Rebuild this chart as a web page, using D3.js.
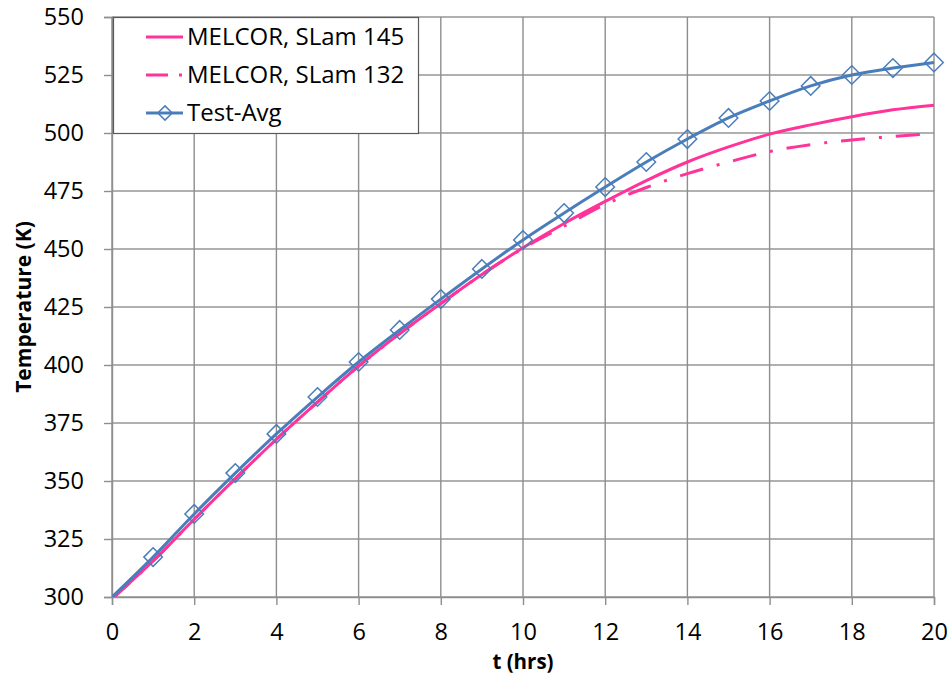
<!DOCTYPE html>
<html>
<head>
<meta charset="utf-8">
<script src="https://cdn.jsdelivr.net/npm/d3@7"></script>
<style>
  body { margin: 0; padding: 0; background: #fff; }
  text { font-family: "Open Sans", "Noto Sans", sans-serif; }
</style>
</head>
<body>
<script>
// data (t in hours, T in K)
var hours = [0, 1, 2, 3, 4, 5, 6, 7, 8, 9, 10, 11, 12, 13, 14, 15, 16, 17, 18, 19, 20];
var slam145 = [299.2, 315.5, 333.5, 351, 368, 384, 399.5, 413.5, 426.5, 439, 450.5, 461, 470.5, 479.5, 487.5, 494, 499.5, 503.5, 507, 510, 512];
var slam132 = [299.2, 315.5, 333.5, 351, 368, 384, 399.5, 413.5, 426.5, 439, 450.3, 459.8, 469.2, 476.5, 482.5, 487.5, 492, 495, 497, 498.5, 499.7];
var testAvg = [300, 317.2, 335.8, 353.4, 370.3, 386.2, 401.3, 415.1, 428.4, 441.4, 453.9, 465.5, 476.7, 487.5, 497.4, 506.5, 513.8, 520.3, 525, 528, 530.4];

var xTicks = [0, 2, 4, 6, 8, 10, 12, 14, 16, 18, 20];
var yTicks = [300, 325, 350, 375, 400, 425, 450, 475, 500, 525, 550];
var legendNames = ["MELCOR, SLam 145", "MELCOR, SLam 132", "Test-Avg"];

var width = 952, height = 677;
var pink = "#ff3399", blue = "#4a7ebb";

var svg = d3.select("body").append("svg")
  .attr("width", width)
  .attr("height", height);

var x = d3.scaleLinear().domain([0, 20]).range([112, 934]);
var y = d3.scaleLinear().domain([300, 550]).range([597, 17]);

// grid
svg.append("g").selectAll("line").data(yTicks).enter().append("line")
  .attr("x1", x(0)).attr("x2", x(20))
  .attr("y1", function (d) { return y(d); })
  .attr("y2", function (d) { return y(d); })
  .attr("stroke", "#b0b0b0").attr("stroke-width", 2);

svg.append("g").selectAll("line").data(xTicks).enter().append("line")
  .attr("y1", y(300)).attr("y2", y(550))
  .attr("x1", function (d) { return x(d); })
  .attr("x2", function (d) { return x(d); })
  .attr("stroke", "#8e8e8e").attr("stroke-width", 1.4);

// axes
var yAxis = svg.append("g")
  .attr("transform", "translate(" + x(0) + ",0)")
  .call(d3.axisLeft(y).tickValues(yTicks).tickSize(8).tickPadding(20));

var xAxis = svg.append("g")
  .attr("transform", "translate(0," + y(300) + ")")
  .call(d3.axisBottom(x).tickValues(xTicks).tickSize(8).tickPadding(18));

[yAxis, xAxis].forEach(function (g) {
  g.select(".domain").attr("stroke", "#8e8e8e").attr("stroke-width", 1.4);
  g.selectAll(".tick line").attr("stroke", "#8e8e8e").attr("stroke-width", 1.4);
  g.selectAll(".tick text")
    .attr("fill", "#000")
    .style("font-family", "'Open Sans', sans-serif")
    .style("font-size", "23.5px");
});

// axis titles
svg.append("text")
  .attr("x", (x(0) + x(20)) / 2).attr("y", 669)
  .attr("text-anchor", "middle")
  .style("font-size", "20.5px").style("font-weight", "bold")
  .text("t (hrs)");

svg.append("text")
  .attr("transform", "translate(31," + (y(300) + y(550)) / 2 + ") rotate(-90)")
  .attr("text-anchor", "middle")
  .style("font-size", "21px").style("font-weight", "bold")
  .text("Temperature (K)");

// series
svg.append("clipPath").attr("id", "plot")
  .append("rect")
  .attr("x", x(0)).attr("y", y(550) - 15)
  .attr("width", x(20) - x(0) + 15).attr("height", y(300) - y(550) + 15);

var line = d3.line()
  .x(function (d) { return x(d[0]); })
  .y(function (d) { return y(d[1]); })
  .curve(d3.curveCatmullRom);

var plot = svg.append("g").attr("clip-path", "url(#plot)");

plot.append("path")
  .attr("d", line(d3.zip(hours, slam132)))
  .attr("fill", "none").attr("stroke", pink).attr("stroke-width", 3)
  .attr("stroke-dasharray", "24,14,3,14");

plot.append("path")
  .attr("d", line(d3.zip(hours, slam145)))
  .attr("fill", "none").attr("stroke", pink).attr("stroke-width", 3);

plot.append("path")
  .attr("d", line(d3.zip(hours, testAvg)))
  .attr("fill", "none").attr("stroke", blue).attr("stroke-width", 3);

var diamond = d3.symbol().type(d3.symbolDiamond2).size(220);

svg.append("g").selectAll("path")
  .data(d3.zip(hours, testAvg).slice(1))
  .enter().append("path")
  .attr("d", diamond)
  .attr("transform", function (d) { return "translate(" + x(d[0]) + "," + y(d[1]) + ")"; })
  .attr("fill", "none").attr("stroke", blue).attr("stroke-width", 1.5);

// legend
var legend = svg.append("g");
legend.append("rect")
  .attr("x", 113.5).attr("y", 17.5).attr("width", 305).attr("height", 116)
  .attr("fill", "#fff").attr("stroke", "#595959").attr("stroke-width", 1.2);

var rows = legend.selectAll("g").data(legendNames).enter().append("g")
  .attr("transform", function (d, i) { return "translate(0," + (37 + i * 38) + ")"; });

rows.append("line")
  .attr("x1", 146).attr("x2", 183).attr("y1", 0).attr("y2", 0)
  .attr("stroke", function (d, i) { return i < 2 ? pink : blue; })
  .attr("stroke-width", 3)
  .attr("stroke-dasharray", function (d, i) { return i == 1 ? "22,11,3,11" : null; });

rows.filter(function (d, i) { return i == 2; }).append("path")
  .attr("d", d3.symbol().type(d3.symbolDiamond2).size(130))
  .attr("transform", "translate(165,0)")
  .attr("fill", "none").attr("stroke", blue).attr("stroke-width", 1.5);

rows.append("text")
  .attr("x", 187).attr("y", 0).attr("dy", "0.35em")
  .style("font-size", "24px")
  .text(function (d) { return d; });
</script>
</body>
</html>
